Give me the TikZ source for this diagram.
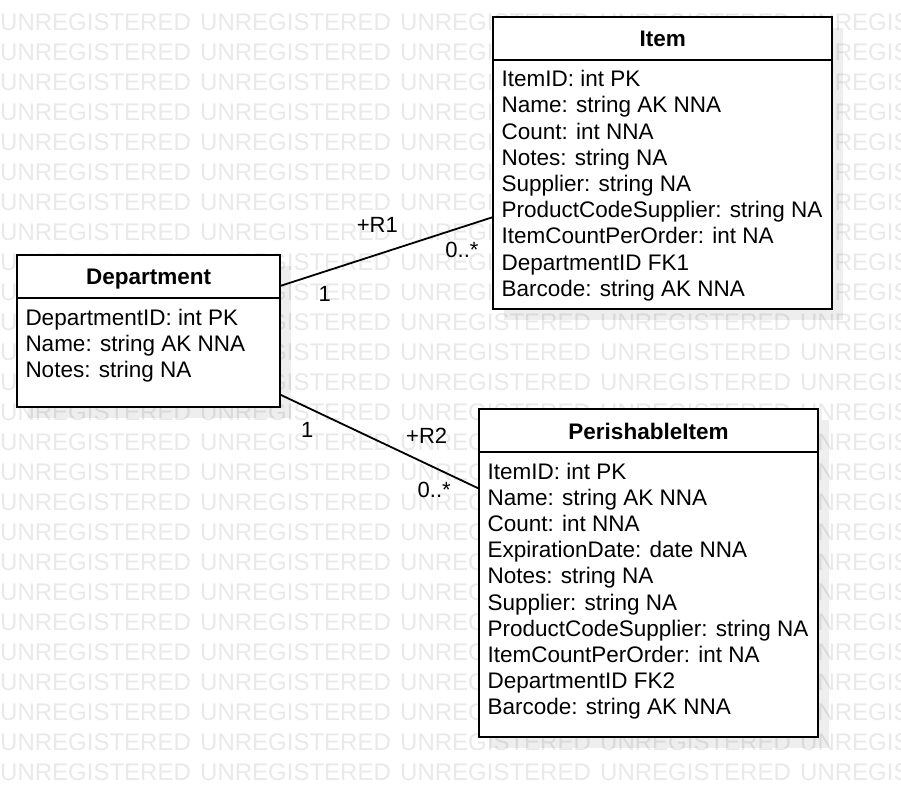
\documentclass[tikz,border=0pt]{standalone}
\usepackage{fontspec}
\setmainfont{Liberation Sans}
\usetikzlibrary{calc}
\definecolor{wmgray}{RGB}{233,233,233}
\begin{document}
\begin{tikzpicture}[x=1pt,y=-1pt,
  wm/.style={font=\fontsize{24}{24}\selectfont, text=wmgray, inner sep=0pt, anchor=base west},
  clsbox/.style={draw=black, line width=2pt, fill=white, inner sep=0pt},
  shadowbox/.style={fill=black, fill opacity=0.065, draw=none, inner sep=0pt},
  hdr/.style={line width=2pt},
  title/.style={font=\fontsize{22.5}{27}\selectfont\bfseries, inner sep=0pt, anchor=base},
  attr/.style={font=\fontsize{22.5}{27}\selectfont, inner sep=0pt, anchor=base west},
  lbl/.style={font=\fontsize{22}{26}\selectfont, inner sep=0pt},
  conn/.style={line width=1.8pt}
]
\useasboundingbox (0,0) rectangle (901,806);
\fill[white] (0,0) rectangle (901,806);

% watermark (words fully hidden behind the class boxes are left out)
\begin{scope}
\clip (0,0) rectangle (901,806);
\foreach \r in {0,...,25}
  \foreach \c in {0,...,4} {
    \pgfmathtruncatemacro\hidewm{(\c==3 && ((\r>=1 && \r<=9) || (\r>=14 && \r<=23))) ? 1 : 0}
    \ifnum\hidewm=0
      \node[wm] (wm-\r-\c) at (200*\c, 30+30*\r) {UNREGISTERED};
    \fi
  }
\end{scope}

% shadows
\node[shadowbox, minimum width=262.7pt, minimum height=152.3pt] (dept-sh) at (159.65,342.15) {};
\node[shadowbox, minimum width=338.7pt, minimum height=292pt] (item-sh) at (673.65,174.3) {};
\node[shadowbox, minimum width=338.4pt, minimum height=327.4pt] (peri-sh) at (659.5,584) {};

% Department
\node[clsbox, minimum width=262.7pt, minimum height=152.3pt] (dept) at (148.65,331.15) {};
\draw[hdr] ([yshift=-44.3pt]dept.north west) -- ([yshift=-44.3pt]dept.north east);
\node[title] (dept-t) at (148.65,284.3) {Department};
\foreach \t [count=\i] in {DepartmentID: int PK, Name: string AK NNA, Notes: string NA}
  \node[attr] (dept-a\i) at (25.3, 325+26.2*\i-26.2) {\t};

% Item
\node[clsbox, minimum width=338.7pt, minimum height=292pt] (item) at (662.65,163.3) {};
\draw[hdr] ([yshift=-44pt]item.north west) -- ([yshift=-44pt]item.north east);
\node[title] (item-t) at (662.65,46.7) {Item};
\foreach \t [count=\i] in {ItemID: int PK, Name: string AK NNA, Count: int NNA, Notes: string NA, Supplier: string NA, ProductCodeSupplier: string NA, ItemCountPerOrder: int NA, DepartmentID FK1, Barcode: string AK NNA}
  \node[attr] (item-a\i) at (501.3, 86.7+26.2*\i-26.2) {\t};

% PerishableItem
\node[clsbox, minimum width=338.4pt, minimum height=327.4pt] (peri) at (648.5,573) {};
\draw[hdr] ([yshift=-43.4pt]peri.north west) -- ([yshift=-43.4pt]peri.north east);
\node[title] (peri-t) at (648.5,439.3) {PerishableItem};
\foreach \t [count=\i] in {ItemID: int PK, Name: string AK NNA, Count: int NNA, ExpirationDate: date NNA, Notes: string NA, Supplier: string NA, ProductCodeSupplier: string NA, ItemCountPerOrder: int NA, DepartmentID FK2, Barcode: string AK NNA}
  \node[attr] (peri-a\i) at (487.3, 479+26.2*\i-26.2) {\t};

% connectors
\coordinate (r1a) at ($(dept.north east)+(0,31.7)$);
\coordinate (r1b) at ($(item.north west)+(0,201)$);
\coordinate (r2a) at ($(dept.north east)+(0,141)$);
\coordinate (r2b) at ($(peri.north west)+(0,80)$);
\draw[conn] (r1a) -- (r1b);
\draw[conn] (r2a) -- (r2b);

% labels
\node[lbl] (r1-name) at (377.3,225.3) {+R1};
\node[lbl] (r1-many) at (462,249.7) {0..*};
\node[lbl] (r1-one) at (324.7,294.2) {1};
\node[lbl] (r2-one) at (307.3,429.7) {1};
\node[lbl] (r2-name) at (426.7,436) {+R2};
\node[lbl] (r2-many) at (434.2,490) {0..*};
\end{tikzpicture}
\end{document}
